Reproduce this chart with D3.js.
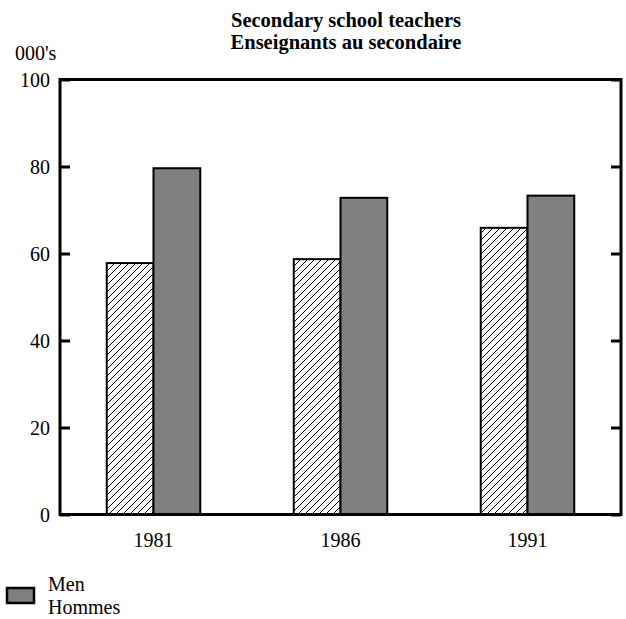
<!DOCTYPE html>
<html><head><meta charset="utf-8">
<script src="https://cdn.jsdelivr.net/npm/d3@7"></script>
<style>body{margin:0;background:#fff}svg{display:block}text{font-family:"Liberation Serif","Times New Roman",serif}</style>
</head><body>
<script>
const years = ["1981","1986","1991"];
const women = [57.8, 58.7, 65.9];
const men = [79.6, 72.8, 73.3];
const yTicks = [0,20,40,60,80,100];
const titleLines = ["Secondary school teachers","Enseignants au secondaire"];

const W=626,H=619;
const L=60,R=621,T=79.5,B=514.5;
const svg=d3.select("body").append("svg").attr("width",W).attr("height",H);
const defs=svg.append("defs");
const pat=defs.append("pattern").attr("id","hatch").attr("patternUnits","userSpaceOnUse").attr("width",7).attr("height",7);
pat.append("rect").attr("width",7).attr("height",7).attr("fill","#fff");
pat.append("path").attr("d","M-1,1 l2,-2 M0,7 l7,-7 M6,8 l2,-2").attr("stroke","#000").attr("stroke-width",1);

const x=d3.scaleBand().domain(years).range([L,R]).paddingInner(0.5).paddingOuter(0.25);
const y=d3.scaleLinear().domain([0,100]).range([B,T]);
const bw=x.bandwidth()/2;

const g=svg.append("g");
years.forEach((yr,i)=>{
  g.append("rect").attr("x",x(yr)).attr("y",y(women[i])).attr("width",bw).attr("height",y(0)-y(women[i]))
   .attr("fill","url(#hatch)").attr("stroke","#000").attr("stroke-width",2);
  g.append("rect").attr("x",x(yr)+bw).attr("y",y(men[i])).attr("width",bw).attr("height",y(0)-y(men[i]))
   .attr("fill","#808080").attr("stroke","#000").attr("stroke-width",2);
});

// frame
svg.append("rect").attr("x",L).attr("y",T).attr("width",R-L).attr("height",B-T).attr("fill","none").attr("stroke","#000").attr("stroke-width",3);

// ticks inward on both sides
const yl=svg.append("g").attr("transform",`translate(${L},0)`).call(d3.axisRight(y).tickValues(yTicks).tickSize(10).tickFormat(""));
yl.select(".domain").remove();
yl.selectAll("line").attr("stroke-width",3);
const yr_=svg.append("g").attr("transform",`translate(${R},0)`).call(d3.axisLeft(y).tickValues(yTicks).tickSize(10).tickFormat(""));
yr_.select(".domain").remove();
yr_.selectAll("line").attr("stroke-width",3);

// y labels
svg.append("g").selectAll("text").data(yTicks).join("text")
  .attr("x",50).attr("y",d=>y(d)+7).attr("text-anchor","end").attr("font-size",20).text(d=>d);
svg.append("text").attr("x",15).attr("y",60).attr("font-size",20).text("000's");

// x labels
svg.append("g").selectAll("text").data(years).join("text")
  .attr("x",d=>x(d)+bw).attr("y",547).attr("text-anchor","middle").attr("font-size",20).text(d=>d);

// title
svg.append("g").selectAll("text").data(titleLines).join("text")
  .attr("x",346).attr("y",(d,i)=>27+i*22).attr("text-anchor","middle").attr("font-size",20.5).attr("font-weight","bold").text(d=>d);

// legend
svg.append("rect").attr("x",7).attr("y",588).attr("width",27).attr("height",15).attr("fill","#808080").attr("stroke","#000").attr("stroke-width",2.5);
svg.append("text").attr("x",48).attr("y",591).attr("font-size",20).text("Men");
svg.append("text").attr("x",48).attr("y",614).attr("font-size",20).text("Hommes");
</script>
</body></html>
